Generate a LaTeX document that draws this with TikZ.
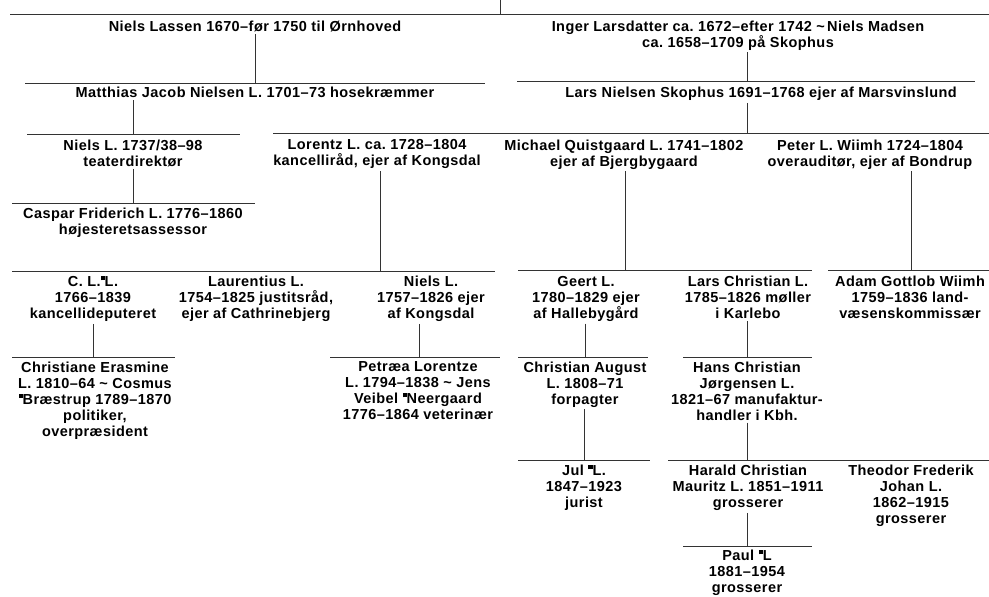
\documentclass[tikz,border=0pt]{standalone}
\usepackage{fontspec}
\setmainfont{Liberation Sans}[LetterSpace=3]
\frenchspacing
\newcommand{\artmark}{\raisebox{.44em}{\rule{.28em}{.28em}}}
\tikzset{
  tree person/.style={anchor=north,align=center,inner sep=2pt,font=\fontsize{14.5}{16}\selectfont\bfseries},
  tree line/.style={draw=black!80,line width=.9pt}
}

\begin{document}
\begin{tikzpicture}[x=1pt,y=-1pt]
  \useasboundingbox (0,0) rectangle (989,597);
  \coordinate (root) at (500,0);
  \node[tree person] (lassen) at (255,18.5) {Niels Lassen 1670–før 1750 til Ørnhoved};
  \node[tree person] (inger) at (738,18.5) {Inger Larsdatter ca. 1672–efter 1742 \textasciitilde\,Niels Madsen\\ca. 1658–1709 på Skophus};
  \node[tree person] (matthias) at (255,85) {Matthias Jacob Nielsen L. 1701–73 hosekræmmer};
  \node[tree person] (skophus) at (761,85) {Lars Nielsen Skophus 1691–1768 ejer af Marsvinslund};
  \node[tree person] (nielsA) at (133,137.5) {Niels L. 1737/38–98\\teaterdirektør};
  \node[tree person] (lorentz) at (377,137.5) {Lorentz L. ca. 1728–1804\\kancelliråd, ejer af Kongsdal};
  \node[tree person] (michael) at (624,137.5) {Michael Quistgaard L. 1741–1802\\ejer af Bjergbygaard};
  \node[tree person] (peter) at (870,137.5) {Peter L. Wiimh 1724–1804\\overauditør, ejer af Bondrup};
  \node[tree person] (caspar) at (133,206) {Caspar Friderich L. 1776–1860\\højesteretsassessor};
  \node[tree person] (cll) at (93,274) {C. L.\artmark L.\\1766–1839\\kancellideputeret};
  \node[tree person] (laurentius) at (256,274) {Laurentius L.\\1754–1825 justitsråd,\\ejer af Cathrinebjerg};
  \node[tree person] (nielsB) at (431,274) {Niels L.\\1757–1826 ejer\\af Kongsdal};
  \node[tree person] (geert) at (586,274) {Geert L.\\1780–1829 ejer\\af Hallebygård};
  \node[tree person] (larschr) at (748,274) {Lars Christian L.\\1785–1826 møller\\i Karlebo};
  \node[tree person] (adam) at (910,274) {Adam Gottlob Wiimh\\1759–1836 land-\\væsenskommissær};
  \node[tree person] (christiane) at (95,359.5) {Christiane Erasmine\\L. 1810–64 \textasciitilde\ Cosmus\\\artmark Bræstrup 1789–1870\\politiker,\\overpræsident};
  \node[tree person] (petraea) at (418,359.5) {Petræa Lorentze\\L. 1794–1838 \textasciitilde\ Jens\\Veibel \artmark Neergaard\\1776–1864 veterinær};
  \node[tree person] (chraug) at (585,359.5) {Christian August\\L. 1808–71\\forpagter};
  \node[tree person] (hanschr) at (747,359.5) {Hans Christian\\Jørgensen L.\\1821–67 manufaktur-\\handler i Kbh.};
  \node[tree person] (jul) at (584,463) {Jul \artmark L.\\1847–1923\\jurist};
  \node[tree person] (harald) at (748,463) {Harald Christian\\Mauritz L. 1851–1911\\grosserer};
  \node[tree person] (theodor) at (911,463) {Theodor Frederik\\Johan L.\\1862–1915\\grosserer};
  \node[tree person] (paul) at (747,548) {Paul \artmark L\\1881–1954\\grosserer};
  \coordinate (dTop) at (500,14);
  \draw[tree line] (10,14) coordinate (dTop-l) -- (989,14) coordinate (dTop-r);
  \draw[tree line] (root) -- (dTop);
  \foreach \p/\d/\xd/\xa/\xb/\y in {lassen/dMat/255/25/485/83, inger/dSko/747/517/975/81,
      matthias/dNiA/133/27/240/134, skophus/dLor/747/273/989/133,
      nielsA/dCas/133/12/255/203, lorentz/dCll/380/12/495/271,
      michael/dGee/625/518/812/270, peter/dAda/911/828/989/270,
      cll/dChr/93/12/175/357, nielsB/dPet/419/330/500/357,
      geert/dChA/585/518/648/357, larschr/dHan/747/683/812/357,
      chraug/dJul/584/518/650/460, hanschr/dHar/747/668/989/460,
      harald/dPau/747/683/812/546}{
    \coordinate (\d) at (\xd,\y);
    \coordinate (\d-l) at (\xa,\y);
    \coordinate (\d-r) at (\xb,\y);
    \draw[tree line] (\d-l) -- (\d-r);
    \draw[tree line] (\p.south -| \d) -- (\d);
  }
\end{tikzpicture}
\end{document}
